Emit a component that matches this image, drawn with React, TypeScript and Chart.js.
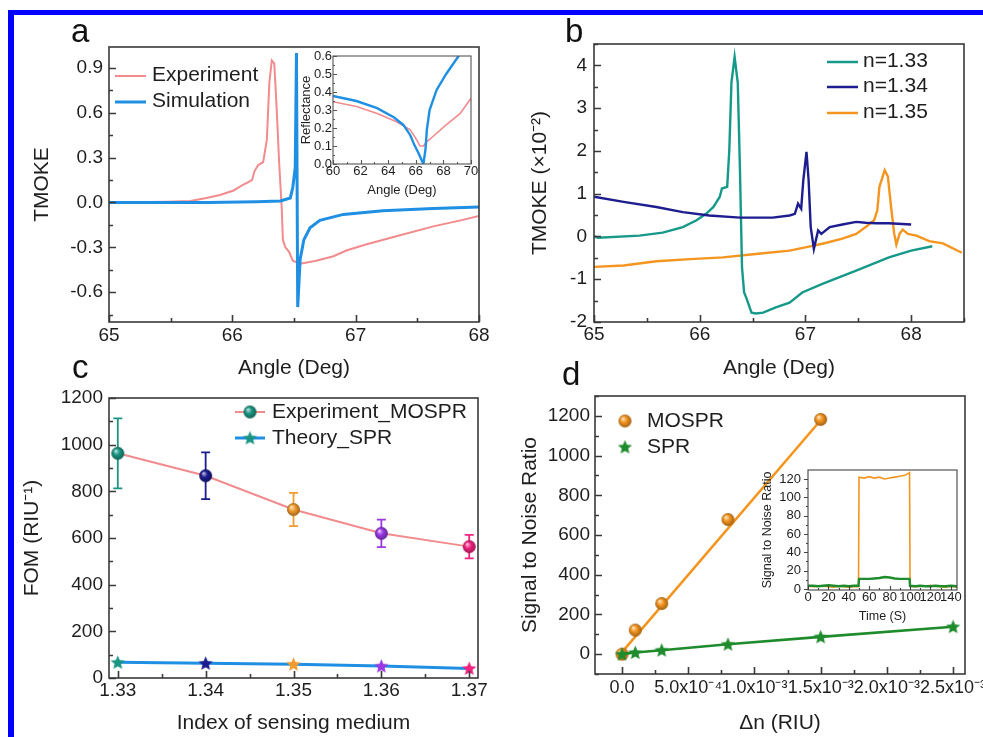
import { useEffect, useRef } from 'react';
import { Chart, registerables } from 'chart.js';
Chart.register(...registerables);

const FONT = '"Liberation Sans", Arial, Helvetica, sans-serif';
const TXT = '#1e1e1e';
const FRAME = '#3a3a3a';

const PINK = '#f28b8d';
const SKY = '#1f8fe3';
const TEAL = '#17998a';
const NAVY = '#1d1d8f';
const ORANGE = '#f4951f';
const GREEN = '#1e8b2c';
const C_COLORS = ['#1a9583', '#1b1b8e', '#f39b2c', '#9a38e4', '#f0237f'];

// ---------- panel a (TMOKE vs angle)
const aExpX = [65, 65.47, 65.66, 65.79, 65.9, 66.01, 66.09, 66.16, 66.18, 66.21, 66.25, 66.28, 66.3, 66.32, 66.34, 66.36, 66.38, 66.4, 66.41, 66.43, 66.46, 66.49, 66.55, 66.68, 66.82, 66.93, 67.09, 67.36, 67.63, 67.85, 68];
const aExpY = [0, 0.005, 0.01, 0.03, 0.05, 0.08, 0.12, 0.15, 0.21, 0.25, 0.27, 0.42, 0.8, 0.95, 0.93, 0.62, 0.26, -0.03, -0.25, -0.3, -0.33, -0.39, -0.41, -0.39, -0.36, -0.32, -0.28, -0.22, -0.16, -0.12, -0.09];
const aSimX = [65, 65.8, 66.2, 66.39, 66.47, 66.49, 66.51, 66.52, 66.53, 66.55, 66.58, 66.63, 66.71, 66.9, 67.22, 67.63, 68];
const aSimY = [0, 0, 0.005, 0.01, 0.03, 0.1, 0.23, 1.0, -0.7, -0.38, -0.25, -0.17, -0.12, -0.08, -0.055, -0.04, -0.03];
const aXTicks = [65, 66, 67, 68];
const aYTicks = [-0.6, -0.3, 0, 0.3, 0.6, 0.9];

// inset a (reflectance)
const aInSimX = [60, 61.7, 63.2, 64.4, 65.1, 65.6, 65.9, 66.2, 66.4, 66.55, 66.7, 66.8, 67.0, 67.5, 68.2, 69.1, 69.5];
const aInSimY = [0.378, 0.35, 0.31, 0.26, 0.217, 0.16, 0.105, 0.06, 0.025, 0.0, 0.08, 0.19, 0.3, 0.41, 0.5, 0.6, 0.64];
const aInExpX = [60, 61.7, 63.2, 64.6, 65.6, 66.1, 66.3, 66.55, 66.8, 67.2, 68.2, 69.2, 70];
const aInExpY = [0.346, 0.32, 0.28, 0.235, 0.19, 0.13, 0.1, 0.1, 0.124, 0.15, 0.217, 0.28, 0.365];
const aInXTicks = [60, 62, 64, 66, 68, 70];
const aInYTicks = [0, 0.1, 0.2, 0.3, 0.4, 0.5, 0.6];

// ---------- panel b
const b33X = [65, 65.04, 65.43, 65.65, 65.84, 65.97, 66.06, 66.13, 66.19, 66.21, 66.26, 66.28, 66.3, 66.33, 66.36, 66.38, 66.4, 66.42, 66.44, 66.49, 66.53, 66.6, 66.72, 66.85, 66.97, 67.16, 67.48, 67.79, 68.0, 68.2];
const b33Y = [0, -0.03, 0.02, 0.09, 0.22, 0.38, 0.53, 0.69, 0.93, 1.12, 1.16, 2.02, 3.59, 4.2, 3.59, 1.63, -0.72, -1.31, -1.43, -1.78, -1.8, -1.78, -1.66, -1.55, -1.31, -1.11, -0.8, -0.49, -0.33, -0.23];
const b34X = [65, 65.28, 65.59, 65.84, 66.09, 66.38, 66.69, 66.85, 66.9, 66.93, 66.96, 66.98, 67.01, 67.03, 67.05, 67.08, 67.12, 67.15, 67.23, 67.35, 67.48, 67.57, 67.67, 67.79, 68.0];
const b34Y = [0.93, 0.81, 0.69, 0.57, 0.49, 0.44, 0.44, 0.49, 0.53, 0.77, 0.65, 1.32, 1.98, 1.32, 0.22, -0.29, 0.14, 0.06, 0.22, 0.28, 0.34, 0.32, 0.31, 0.31, 0.28];
const b35X = [65, 65.28, 65.59, 65.91, 66.22, 66.53, 66.85, 67.01, 67.16, 67.35, 67.48, 67.57, 67.65, 67.68, 67.7, 67.75, 67.78, 67.81, 67.84, 67.86, 67.89, 67.92, 67.97, 68.05, 68.17, 68.3, 68.48];
const b35Y = [-0.71, -0.68, -0.58, -0.53, -0.49, -0.41, -0.33, -0.25, -0.17, -0.05, 0.06, 0.22, 0.38, 0.61, 1.16, 1.55, 1.4, 0.69, 0.06, -0.19, 0.06, 0.16, 0.06, 0.02, -0.11, -0.16, -0.38];
const bXTicks = [65, 66, 67, 68];
const bYTicks = [-2, -1, 0, 1, 2, 3, 4];

// ---------- panel c
const cIndex = [1.33, 1.34, 1.35, 1.36, 1.37];
const cMospr = [963, 867, 722, 620, 563];
const cMosprErr = [150, 100, 71, 59, 50];
const cSpr = [67, 63, 59, 51, 41];
const cXTicks = [1.33, 1.34, 1.35, 1.36, 1.37];
const cYTicks = [0, 200, 400, 600, 800, 1000, 1200];

// ---------- panel d
const dMosX = [0, 1e-4, 3e-4, 8e-4, 1.5e-3];
const dMosY = [0, 121, 255, 678, 1182];
const dFitX = [0, 1.5e-3];
const dFitY = [10, 1178];
const dSprX = [0, 1e-4, 3e-4, 8e-4, 1.5e-3, 2.5e-3];
const dSprY = [0, 8, 20, 50, 87, 138];
const dXTicks = [0, 5e-4, 1e-3, 1.5e-3, 2e-3, 2.5e-3];
const dXLabels = ['0.0', '5.0x10\u207B\u2074', '1.0x10\u207B\u00B3', '1.5x10\u207B\u00B3', '2.0x10\u207B\u00B3', '2.5x10\u207B\u00B3'];
const dYTicks = [0, 200, 400, 600, 800, 1000, 1200];

// inset d (time trace)
const dInT = [0, 5, 10, 15, 20, 25, 30, 35, 40, 45, 49.5, 50, 55, 60, 65, 70, 75, 80, 85, 90, 95, 99.5, 100, 105, 110, 115, 120, 125, 130, 135, 140, 146];
const dInOrange = [3, 2.5, 3, 3, 2.5, 2, 3, 2.5, 2, 2.5, 2.5, 122, 121, 122.5, 121, 122, 120, 121, 122, 123, 124, 127, 3, 2.5, 3, 3, 4, 3, 2.5, 2, 3, 2];
const dInGreen = [3.5, 3.5, 3, 3.5, 4, 3.5, 3, 3.5, 3, 3.5, 3.5, 11, 11, 11, 11.5, 12, 13, 12.5, 11.5, 11, 11, 11, 3.5, 3, 3.5, 3, 3, 3.5, 3, 3, 3.5, 3];
const dInXTicks = [0, 20, 40, 60, 80, 100, 120, 140];
const dInYTicks = [0, 20, 40, 60, 80, 100, 120];

// ---------- helpers
const zip = (xs: number[], ys: number[]) => xs.map((x, i) => ({ x, y: ys[i] }));
const mids = (t: number[]) => {
  const out: number[] = [];
  for (let i = 0; i < t.length - 1; i++) out.push((t[i] + t[i + 1]) / 2);
  return out;
};
const withEdges = (t: number[], min: number, max: number) => {
  const step = t[1] - t[0];
  const m = mids(t);
  if (t[0] - step / 2 >= min) m.unshift(t[0] - step / 2);
  if (t[t.length - 1] + step / 2 <= max) m.push(t[t.length - 1] + step / 2);
  return m;
};

function hexRgb(h: string) {
  const n = parseInt(h.slice(1), 16);
  return [(n >> 16) & 255, (n >> 8) & 255, n & 255];
}
function mix(h: string, t: number, k: number) {
  const c = hexRgb(h);
  return `rgb(${c.map((v) => Math.round(v + (t - v) * k)).join(',')})`;
}
function sphere(color: string, r: number) {
  const s = Math.ceil(2 * r + 2);
  const cv = document.createElement('canvas');
  cv.width = s;
  cv.height = s;
  const g = cv.getContext('2d')!;
  const c = s / 2;
  const gr = g.createRadialGradient(c - r * 0.35, c - r * 0.4, r * 0.05, c, c, r);
  gr.addColorStop(0, mix(color, 255, 0.75));
  gr.addColorStop(0.45, color);
  gr.addColorStop(1, mix(color, 0, 0.35));
  g.fillStyle = gr;
  g.beginPath();
  g.arc(c, c, r, 0, Math.PI * 2);
  g.fill();
  return cv;
}
function star(color: string, R: number) {
  const s = Math.ceil(2 * R + 2);
  const cv = document.createElement('canvas');
  cv.width = s;
  cv.height = s;
  const g = cv.getContext('2d')!;
  const c = s / 2;
  g.fillStyle = color;
  g.beginPath();
  for (let k = 0; k < 10; k++) {
    const rr = k % 2 ? R * 0.45 : R;
    const ang = -Math.PI / 2 + (k * Math.PI) / 5;
    const px = c + rr * Math.cos(ang);
    const py = c + 0.5 + rr * Math.sin(ang);
    if (k === 0) g.moveTo(px, py);
    else g.lineTo(px, py);
  }
  g.closePath();
  g.fill();
  return cv;
}

interface AxisP {
  min: number;
  max: number;
  ticks: number[];
  fmt: (v: number, i: number) => string;
  size: number;
  pad: number;
  title: string;
  tsize: number;
  tpad: number;
  extent: number;
}
function xAxis(p: AxisP) {
  return {
    type: 'linear',
    position: 'bottom',
    min: p.min,
    max: p.max,
    grid: { display: false, drawTicks: false },
    border: { display: false },
    afterBuildTicks: (s: any) => {
      s.ticks = p.ticks.map((v) => ({ value: v }));
    },
    afterFit: (s: any) => {
      s.height = p.extent;
      s.paddingLeft = 0;
      s.paddingRight = 0;
    },
    ticks: {
      autoSkip: false,
      maxRotation: 0,
      minRotation: 0,
      padding: p.pad,
      color: TXT,
      font: { family: FONT, size: p.size },
      callback: (v: any, i: number) => p.fmt(Number(v), i),
    },
    title: { display: true, text: p.title, color: TXT, font: { family: FONT, size: p.tsize }, padding: { top: 0, bottom: p.tpad } },
  };
}
function yAxis(p: AxisP) {
  return {
    type: 'linear',
    position: 'left',
    min: p.min,
    max: p.max,
    grid: { display: false, drawTicks: false },
    border: { display: false },
    afterBuildTicks: (s: any) => {
      s.ticks = p.ticks.map((v) => ({ value: v }));
    },
    afterFit: (s: any) => {
      s.width = p.extent;
      s.paddingTop = 0;
      s.paddingBottom = 0;
    },
    ticks: {
      autoSkip: false,
      padding: p.pad,
      color: TXT,
      font: { family: FONT, size: p.size },
      callback: (v: any, i: number) => p.fmt(Number(v), i),
    },
    title: { display: true, text: p.title, color: TXT, font: { family: FONT, size: p.tsize }, padding: { top: p.tpad, bottom: 0 } },
  };
}

interface FrameP {
  xMajor: number[];
  xMinor: number[];
  yMajor: number[];
  yMinor: number[];
  color: string;
  lw: number;
  maj: number;
  min: number;
  yDir?: number;
}
function framePlugin(o: FrameP) {
  return {
    id: 'frame',
    afterDatasetsDraw(chart: any) {
      const { ctx, chartArea: a } = chart;
      const xs = chart.scales.x;
      const ys = chart.scales.y;
      const yd = o.yDir ?? 1;
      ctx.save();
      ctx.strokeStyle = o.color;
      ctx.lineWidth = o.lw;
      ctx.beginPath();
      const X = (v: number, len: number) => {
        const p = Math.round(xs.getPixelForValue(v)) + 0.5;
        ctx.moveTo(p, a.bottom);
        ctx.lineTo(p, a.bottom - len);
      };
      const Y = (v: number, len: number) => {
        const p = Math.round(ys.getPixelForValue(v)) + 0.5;
        ctx.moveTo(a.left, p);
        ctx.lineTo(a.left + len * yd, p);
      };
      o.xMajor.forEach((v) => X(v, o.maj));
      o.xMinor.forEach((v) => X(v, o.min));
      o.yMajor.forEach((v) => Y(v, o.maj));
      o.yMinor.forEach((v) => Y(v, o.min));
      ctx.stroke();
      ctx.strokeRect(a.left, a.top, a.right - a.left, a.bottom - a.top);
      ctx.restore();
    },
  };
}

interface LegItem {
  text: string;
  line?: string;
  lw?: number;
  marker?: HTMLCanvasElement;
}
function legendPlugin(o: { x0: number; x1: number; mx: number; tx: number; ly: number[]; by: number[]; size: number; items: LegItem[] }) {
  return {
    id: 'customLegend',
    afterDraw(chart: any) {
      const { ctx, chartArea: a } = chart;
      ctx.save();
      o.items.forEach((it, i) => {
        const ly = a.top + o.ly[i];
        if (it.line) {
          ctx.strokeStyle = it.line;
          ctx.lineWidth = it.lw || 2;
          ctx.beginPath();
          ctx.moveTo(a.left + o.x0, ly);
          ctx.lineTo(a.left + o.x1, ly);
          ctx.stroke();
        }
        if (it.marker) {
          const m = it.marker;
          ctx.drawImage(m, a.left + o.mx - m.width / 2, ly - m.height / 2);
        }
        ctx.fillStyle = TXT;
        ctx.font = `${o.size}px ${FONT}`;
        ctx.textBaseline = 'alphabetic';
        ctx.textAlign = 'left';
        ctx.fillText(it.text, a.left + o.tx, a.top + o.by[i]);
      });
      ctx.restore();
    },
  };
}

function errorBarPlugin(xs: number[], ys: number[], errs: number[], colors: string[], cap: number) {
  return {
    id: 'errorBars',
    beforeDatasetsDraw(chart: any) {
      const { ctx } = chart;
      const sx = chart.scales.x;
      const sy = chart.scales.y;
      ctx.save();
      ctx.lineWidth = 1.8;
      xs.forEach((x, i) => {
        const px = sx.getPixelForValue(x);
        const t = sy.getPixelForValue(ys[i] + errs[i]);
        const b = sy.getPixelForValue(ys[i] - errs[i]);
        ctx.strokeStyle = colors[i];
        ctx.beginPath();
        ctx.moveTo(px, t);
        ctx.lineTo(px, b);
        ctx.moveTo(px - cap, t);
        ctx.lineTo(px + cap, t);
        ctx.moveTo(px - cap, b);
        ctx.lineTo(px + cap, b);
        ctx.stroke();
      });
      ctx.restore();
    },
  };
}

const baseOpts = (pad: { top: number; right: number }) => ({
  responsive: false,
  animation: false,
  events: [],
  layout: { padding: { left: 0, top: pad.top, right: pad.right, bottom: 0 } },
  plugins: { legend: { display: false }, tooltip: { enabled: false }, title: { display: false } },
});

const lineDs = (data: any[], color: string, w: number) => ({
  data,
  borderColor: color,
  backgroundColor: color,
  borderWidth: w,
  pointRadius: 0,
  tension: 0,
  fill: false,
});

// ---------- configs (first dataset is drawn on top)
function makeA() {
  return {
    type: 'line',
    data: { datasets: [lineDs(zip(aSimX, aSimY), SKY, 3), lineDs(zip(aExpX, aExpY), PINK, 2)] },
    options: {
      ...baseOpts({ top: 31, right: 11 }),
      scales: {
        x: xAxis({ min: 65, max: 68, ticks: aXTicks, fmt: (v) => String(v), size: 19, pad: 2, title: 'Angle (Deg)', tsize: 21, tpad: 5.4, extent: 64 }),
        y: yAxis({ min: -0.8, max: 1.04, ticks: aYTicks, fmt: (v) => v.toFixed(1), size: 19, pad: 6, title: 'TMOKE', tsize: 21, tpad: 13.4, extent: 93 }),
      },
    },
    plugins: [
      framePlugin({ xMajor: aXTicks, xMinor: mids(aXTicks), yMajor: aYTicks, yMinor: withEdges(aYTicks, -0.8, 1.04), color: FRAME, lw: 1.6, maj: 7, min: 4 }),
      legendPlugin({
        x0: 6, x1: 37, mx: 21, tx: 43, ly: [29, 55], by: [34, 60], size: 21,
        items: [
          { text: 'Experiment', line: PINK, lw: 2 },
          { text: 'Simulation', line: SKY, lw: 3 },
        ],
      }),
    ],
  };
}

function makeAInset() {
  return {
    type: 'line',
    data: { datasets: [lineDs(zip(aInSimX, aInSimY), SKY, 2.4), lineDs(zip(aInExpX, aInExpY), PINK, 1.6)] },
    options: {
      ...baseOpts({ top: 11, right: 9 }),
      scales: {
        x: xAxis({ min: 60, max: 70, ticks: aInXTicks, fmt: (v) => String(v), size: 13, pad: 0, title: 'Angle (Deg)', tsize: 13, tpad: 2.2, extent: 36 }),
        y: yAxis({ min: 0, max: 0.6, ticks: aInYTicks, fmt: (v) => v.toFixed(1), size: 13, pad: 1, title: 'Reflectance', tsize: 13, tpad: 8.2, extent: 43 }),
      },
    },
    plugins: [framePlugin({ xMajor: aInXTicks, xMinor: mids(aInXTicks), yMajor: aInYTicks, yMinor: mids(aInYTicks), color: '#555555', lw: 1.1, maj: 4, min: 2 })],
  };
}

function makeB() {
  return {
    type: 'line',
    data: { datasets: [lineDs(zip(b34X, b34Y), NAVY, 2.4), lineDs(zip(b33X, b33Y), TEAL, 2.4), lineDs(zip(b35X, b35Y), ORANGE, 2.4)] },
    options: {
      ...baseOpts({ top: 28, right: 19 }),
      scales: {
        x: xAxis({ min: 65, max: 68.5, ticks: bXTicks, fmt: (v) => String(v), size: 19, pad: 1, title: 'Angle (Deg)', tsize: 21, tpad: 5.4, extent: 64 }),
        y: yAxis({ min: -2, max: 4.5, ticks: bYTicks, fmt: (v) => String(v), size: 19, pad: 7, title: 'TMOKE (\u00D710\u207B\u00B2)', tsize: 21, tpad: 27.4, extent: 94 }),
      },
    },
    plugins: [
      framePlugin({ xMajor: bXTicks, xMinor: withEdges(bXTicks, 65, 68.5), yMajor: bYTicks, yMinor: withEdges(bYTicks, -2, 4.5), color: FRAME, lw: 1.6, maj: 7, min: 4 }),
      legendPlugin({
        x0: 233, x1: 264, mx: 248, tx: 269, ly: [18, 43, 69], by: [23, 48, 74], size: 21,
        items: [
          { text: 'n=1.33', line: TEAL, lw: 2.5 },
          { text: 'n=1.34', line: NAVY, lw: 2.5 },
          { text: 'n=1.35', line: ORANGE, lw: 2.5 },
        ],
      }),
    ],
  };
}

function makeC() {
  const spheres = C_COLORS.map((c) => sphere(c, 6.5));
  const stars = C_COLORS.map((c) => star(c, 7.5));
  return {
    type: 'line',
    data: {
      datasets: [
        { ...lineDs(zip(cIndex, cSpr), SKY, 3), pointRadius: 7, pointStyle: stars },
        { ...lineDs(zip(cIndex, cMospr), PINK, 2), pointRadius: 6.5, pointStyle: spheres },
      ],
    },
    options: {
      ...baseOpts({ top: 58, right: 12 }),
      scales: {
        x: xAxis({ min: 1.329, max: 1.371, ticks: cXTicks, fmt: (v) => v.toFixed(2), size: 19, pad: 1.5, title: 'Index of sensing medium', tsize: 21, tpad: 1.4, extent: 59 }),
        y: yAxis({ min: 0, max: 1200, ticks: cYTicks, fmt: (v) => String(v), size: 19, pad: 6, title: 'FOM (RIU\u207B\u00B9)', tsize: 21, tpad: 3.4, extent: 93 }),
      },
    },
    plugins: [
      errorBarPlugin(cIndex, cMospr, cMosprErr, C_COLORS, 4.5),
      framePlugin({ xMajor: cXTicks, xMinor: mids(cXTicks), yMajor: cYTicks, yMinor: mids(cYTicks), color: FRAME, lw: 1.6, maj: 7, min: 4 }),
      legendPlugin({
        x0: 126, x1: 156, mx: 141, tx: 163, ly: [14, 40], by: [20, 46], size: 21,
        items: [
          { text: 'Experiment_MOSPR', line: PINK, lw: 2, marker: sphere(C_COLORS[0], 6.5) },
          { text: 'Theory_SPR', line: SKY, lw: 3, marker: star(C_COLORS[0], 7.5) },
        ],
      }),
    ],
  };
}

function makeD() {
  const sph = sphere(ORANGE, 6.5);
  const st = star(GREEN, 7.5);
  return {
    type: 'line',
    data: {
      datasets: [
        { ...lineDs(zip(dSprX, dSprY), GREEN, 2.6), pointRadius: 7, pointStyle: st },
        { ...lineDs(zip(dMosX, dMosY), ORANGE, 0), showLine: false, pointRadius: 6.5, pointStyle: sph },
        lineDs(zip(dFitX, dFitY), ORANGE, 2.6),
      ],
    },
    options: {
      ...baseOpts({ top: 56, right: 18 }),
      scales: {
        x: xAxis({ min: -0.000204, max: 0.00259, ticks: dXTicks, fmt: (_v, i) => dXLabels[i], size: 18, pad: 3, title: '\u0394n (RIU)', tsize: 21, tpad: 1.4, extent: 63 }),
        y: yAxis({ min: -100, max: 1300, ticks: dYTicks, fmt: (v) => String(v), size: 19, pad: 5, title: 'Signal to Noise Ratio', tsize: 21, tpad: 17.4, extent: 95 }),
      },
    },
    plugins: [
      framePlugin({ xMajor: dXTicks, xMinor: mids(dXTicks), yMajor: dYTicks, yMinor: withEdges(dYTicks, -100, 1300), color: FRAME, lw: 1.6, maj: 7, min: 4 }),
      legendPlugin({
        x0: 0, x1: 0, mx: 30, tx: 52, ly: [25, 51], by: [31, 57], size: 21,
        items: [
          { text: 'MOSPR', marker: sphere(ORANGE, 6.5) },
          { text: 'SPR', marker: star(GREEN, 7.5) },
        ],
      }),
    ],
  };
}

function makeDInset() {
  return {
    type: 'line',
    data: { datasets: [lineDs(zip(dInT, dInGreen), GREEN, 2.4), lineDs(zip(dInT, dInOrange), ORANGE, 1.6)] },
    options: {
      ...baseOpts({ top: 10, right: 18 }),
      scales: {
        x: xAxis({ min: 0, max: 146, ticks: dInXTicks, fmt: (v) => String(v), size: 13, pad: 0, title: 'Time (S)', tsize: 12.5, tpad: 5.5, extent: 40 }),
        y: yAxis({ min: -1.1, max: 129.8, ticks: dInYTicks, fmt: (v) => String(v), size: 13, pad: 7, title: 'Signal to Noise Ratio', tsize: 12.5, tpad: 5.5, extent: 53 }),
      },
    },
    plugins: [framePlugin({ xMajor: dInXTicks, xMinor: mids(dInXTicks), yMajor: dInYTicks, yMinor: mids(dInYTicks), color: '#444444', lw: 1.1, maj: 4, min: 2, yDir: -1 })],
  };
}

function Plot({ left, top, width, height, make }: { left: number; top: number; width: number; height: number; make: () => any }) {
  const ref = useRef<HTMLCanvasElement | null>(null);
  useEffect(() => {
    const chart = new Chart(ref.current as HTMLCanvasElement, make() as any);
    return () => chart.destroy();
  }, []);
  return <canvas ref={ref} width={width} height={height} style={{ position: 'absolute', left, top, width, height }} />;
}

const letterStyle = (left: number, top: number) => ({
  position: 'absolute' as const,
  left,
  top,
  fontFamily: FONT,
  fontSize: 33,
  lineHeight: '33px',
  color: '#111',
});

export default function App() {
  return (
    <div style={{ position: 'absolute', left: 0, top: 0, width: 983, height: 737, overflow: 'hidden', background: '#fff' }}>
      <div style={{ position: 'absolute', left: 8, top: 10, width: 990, height: 760, borderTop: '5px solid #0000ff', borderLeft: '6px solid #0000ff', boxSizing: 'border-box' }} />
      <Plot left={16} top={16} width={474} height={370} make={makeA} />
      <Plot left={290} top={45} width={190} height={155} make={makeAInset} />
      <Plot left={500} top={16} width={483} height={370} make={makeB} />
      <Plot left={16} top={340} width={474} height={397} make={makeC} />
      <Plot left={500} top={340} width={483} height={397} make={makeD} />
      <Plot left={755} top={460} width={220} height={170} make={makeDInset} />
      <div style={letterStyle(71, 14)}>a</div>
      <div style={letterStyle(565, 14)}>b</div>
      <div style={letterStyle(72, 350)}>c</div>
      <div style={letterStyle(562, 357)}>d</div>
    </div>
  );
}
